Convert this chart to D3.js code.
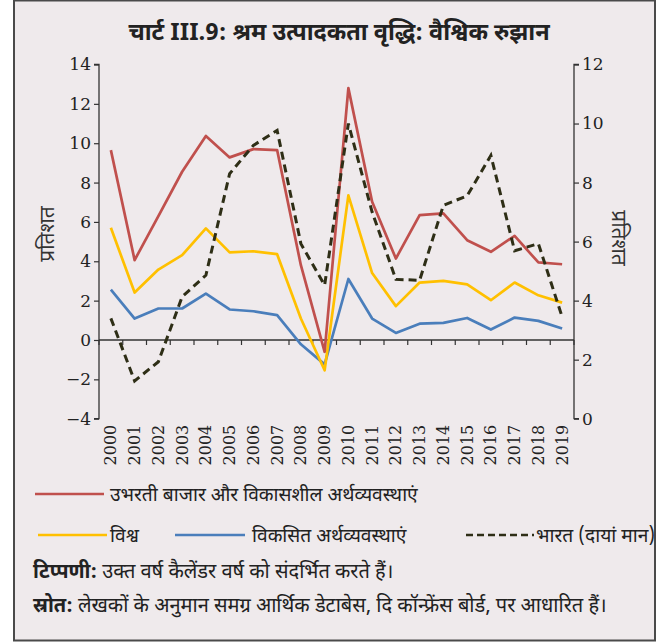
<!DOCTYPE html>
<html>
<head>
<meta charset="utf-8">
<script src="https://cdn.jsdelivr.net/npm/d3@7"></script>
<style>
  body { margin: 0; background: #fff; }
  .dev { font-family: "Noto Sans Devanagari", "Lohit Devanagari", "Noto Sans", sans-serif; }
  .num { font-family: "DejaVu Serif", serif; }
</style>
</head>
<body>
<div id="c"></div>
<script>
var years = ['2000','2001','2002','2003','2004','2005','2006','2007','2008','2009',
	'2010','2011','2012','2013','2014','2015','2016','2017','2018','2019'];

// left axis series
var emde = [9.65, 4.06, 6.3, 8.55, 10.37, 9.28, 9.7, 9.65, 3.8, -0.6,
	12.8, 7.03, 4.14, 6.35, 6.43, 5.07, 4.48, 5.29, 3.94, 3.85];
var world = [5.7, 2.41, 3.58, 4.31, 5.67, 4.45, 4.51, 4.36, 1.09, -1.54,
	7.35, 3.4, 1.72, 2.92, 3.0, 2.83, 2.02, 2.92, 2.27, 1.9];
var advanced = [2.56, 1.09, 1.6, 1.6, 2.36, 1.55, 1.46, 1.26, -0.22, -1.24,
	3.1, 1.09, 0.36, 0.83, 0.87, 1.12, 0.53, 1.14, 0.97, 0.58];
// right axis series
var india = [3.4, 1.28, 1.93, 4.13, 4.86, 8.3, 9.26, 9.77, 5.93, 4.52,
	10.0, 7.0, 4.72, 4.69, 7.23, 7.55, 8.92, 5.69, 5.93, 3.45];

var left_ticks = [-4, -2, 0, 2, 4, 6, 8, 10, 12, 14];
var right_ticks = [0, 2, 4, 6, 8, 10, 12];

var title = 'चार्ट III.9: श्रम उत्पादकता वृद्धि: वैश्विक रुझान';
var y_label = 'प्रतिशत';
var leg_names = ['उभरती बाजार और विकासशील अर्थव्यवस्थाएं', 'विश्व', 'विकसित अर्थव्यवस्थाएं', 'भारत (दायां मान)'];
var note_head = 'टिप्पणी:', note_text = ' उक्त वर्ष कैलेंडर वर्ष को संदर्भित करते हैं।';
var src_head = 'स्रोत:', src_text = ' लेखकों के अनुमान समग्र आर्थिक डेटाबेस, दि कॉन्फ्रेंस बोर्ड, पर आधारित हैं।';

var width = 663, height = 642;
var x_left = 99, x_right = 574;
var y_top = 64.5, y_bot = 418.7;

var col_red = '#c0504d', col_yel = '#ffc000', col_blue = '#4a7ebb', col_ind = '#2e2e16';
var axis_col = '#333';

var svg = d3.select('#c').append('svg')
	.attr('width', width)
	.attr('height', height);

// frame
svg.append('rect')
	.attr('x', 14).attr('y', 0.5)
	.attr('width', 641).attr('height', 640)
	.attr('fill', '#efeaec')
	.attr('stroke', '#4a4a4a')
	.attr('stroke-width', 2);

svg.append('text')
	.attr('class', 'dev')
	.attr('x', 339).attr('y', 40)
	.attr('text-anchor', 'middle')
	.attr('font-size', 23.5)
	.attr('font-weight', 'bold')
	.attr('fill', '#222')
	.text(title);

var x_scale = d3.scaleBand()
	.domain(years)
	.range([x_left, x_right]);

var y_scale = d3.scaleLinear()
	.domain([-4, 14])
	.range([y_bot, y_top]);

var y2_scale = d3.scaleLinear()
	.domain([0, 12])
	.range([y_bot, y_top]);

function cx(d, i) { return x_scale(years[i]) + x_scale.bandwidth() / 2; }

// left axis
var g_left = svg.append('g')
	.attr('class', 'num')
	.attr('transform', 'translate(' + x_left + ',0)')
	.call(d3.axisLeft(y_scale).tickValues(left_ticks).tickSize(5).tickPadding(3).tickFormat(d3.format('d')));

// right axis
var g_right = svg.append('g')
	.attr('class', 'num')
	.attr('transform', 'translate(' + x_right + ',0)')
	.call(d3.axisRight(y2_scale).tickValues(right_ticks).tickSize(5).tickPadding(3).tickFormat(d3.format('d')));

[g_left, g_right].forEach(function(g) {
	g.select('.domain').attr('stroke', axis_col).attr('stroke-width', 1.3).attr('d', function() {
		return 'M' + (g === g_left ? -5 : 5) + ',' + y_bot + 'H0V' + y_top + 'H' + (g === g_left ? -5 : 5);
	});
	g.selectAll('.tick line').attr('stroke', axis_col).attr('stroke-width', 1.2);
	g.selectAll('.tick text')
		.attr('font-family', 'DejaVu Serif, serif')
		.attr('font-size', 17)
		.attr('fill', '#222');
});

// x axis along zero line
var zero_y = y_scale(0);
svg.append('line')
	.attr('x1', x_left).attr('x2', x_right)
	.attr('y1', zero_y).attr('y2', zero_y)
	.attr('stroke', axis_col).attr('stroke-width', 1.3);

svg.append('g').selectAll('line')
	.data(years.concat(['end']))
	.enter()
	.append('line')
	.attr('x1', function(d, i) { return x_left + i * x_scale.step(); })
	.attr('x2', function(d, i) { return x_left + i * x_scale.step(); })
	.attr('y1', zero_y).attr('y2', zero_y + 5)
	.attr('stroke', axis_col).attr('stroke-width', 1.2);

// year labels at the bottom
svg.append('g').selectAll('text')
	.data(years)
	.enter()
	.append('text')
	.attr('class', 'num')
	.attr('transform', function(d, i) {
		return 'translate(' + (cx(d, i) + 5.5) + ',' + (y_bot + 6) + ') rotate(-90)';
	})
	.attr('text-anchor', 'end')
	.attr('font-size', 16)
	.attr('fill', '#222')
	.text(function(d) { return d; });

// y labels
svg.append('text')
	.attr('class', 'dev')
	.attr('transform', 'translate(54,234) rotate(-90)')
	.attr('text-anchor', 'middle')
	.attr('font-size', 21)
	.attr('fill', '#333')
	.text(y_label);

svg.append('text')
	.attr('class', 'dev')
	.attr('transform', 'translate(612,238) rotate(90)')
	.attr('text-anchor', 'middle')
	.attr('font-size', 21)
	.attr('fill', '#333')
	.text(y_label);

// lines
var line_left = d3.line()
	.x(cx)
	.y(function(d) { return y_scale(d); });

var line_right = d3.line()
	.x(cx)
	.y(function(d) { return y2_scale(d); });

var series = [
	{ vals: advanced, col: col_blue },
	{ vals: world, col: col_yel },
	{ vals: emde, col: col_red }
];

svg.append('g').selectAll('path')
	.data(series)
	.enter()
	.append('path')
	.attr('d', function(d) { return line_left(d.vals); })
	.attr('fill', 'none')
	.attr('stroke', function(d) { return d.col; })
	.attr('stroke-width', 2.7)
	.attr('stroke-linejoin', 'round');

svg.append('path')
	.attr('d', line_right(india))
	.attr('fill', 'none')
	.attr('stroke', col_ind)
	.attr('stroke-width', 3)
	.attr('stroke-dasharray', '8,5');

// legend
var legend = [
	{ x1: 35, x2: 104, tx: 110, y: 494, col: col_red, dash: null, name: leg_names[0] },
	{ x1: 38, x2: 107, tx: 110, y: 535, col: col_yel, dash: null, name: leg_names[1] },
	{ x1: 175, x2: 245, tx: 252, y: 535, col: col_blue, dash: null, name: leg_names[2] },
	{ x1: 466, x2: 534, tx: 536, y: 535, col: col_ind, dash: '7,4', name: leg_names[3] }
];

var lg = svg.append('g').selectAll('g')
	.data(legend)
	.enter()
	.append('g');

lg.append('line')
	.attr('x1', function(d) { return d.x1; })
	.attr('x2', function(d) { return d.x2; })
	.attr('y1', function(d) { return d.y; })
	.attr('y2', function(d) { return d.y; })
	.attr('stroke', function(d) { return d.col; })
	.attr('stroke-width', 2.7)
	.attr('stroke-dasharray', function(d) { return d.dash; });

lg.append('text')
	.attr('class', 'dev')
	.attr('x', function(d) { return d.tx; })
	.attr('y', function(d) { return d.y + 7; })
	.attr('font-size', 19.2)
	.attr('fill', '#222')
	.text(function(d) { return d.name; });

// notes
var notes = [[note_head, note_text, 578], [src_head, src_text, 612]];
notes.forEach(function(n) {
	var t = svg.append('text')
		.attr('class', 'dev')
		.attr('x', 33).attr('y', n[2])
		.attr('font-size', 20)
		.attr('fill', '#222');
	t.append('tspan').attr('font-weight', 'bold').text(n[0]);
	t.append('tspan').text(n[1]);
});
</script>
</body>
</html>
